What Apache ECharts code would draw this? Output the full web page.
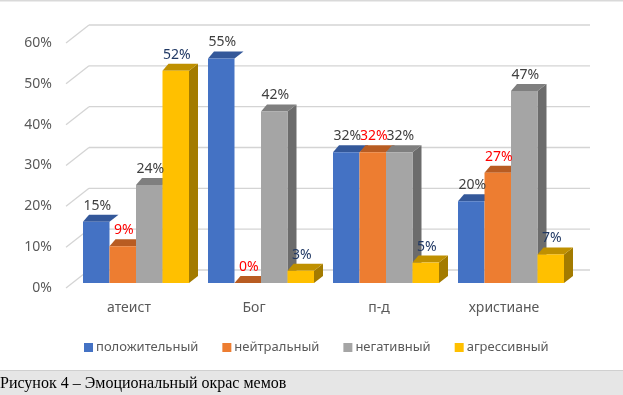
<!DOCTYPE html>
<html>
<head>
<meta charset="utf-8">
<script src="https://cdn.jsdelivr.net/npm/echarts@6/dist/echarts.min.js"></script>
<style>
html,body{margin:0;padding:0;background:#fff;}
#c{width:623px;height:395px;}
</style>
</head>
<body>
<div id="c"></div>
<script>
const categories = ['атеист', 'Бог', 'п-д', 'христиане'];
const seriesNames = ['положительный', 'нейтральный', 'негативный', 'агрессивный'];
const positive = [15, 55, 32, 20];
const neutral = [9, 0, 32, 27];
const negative = [24, 42, 32, 47];
const aggressive = [52, 3, 5, 7];
const yTicks = [0, 10, 20, 30, 40, 50, 60];
const caption = 'Рисунок 4 – Эмоциональный окрас мемов';

const seriesValues = [positive, neutral, negative, aggressive];
const frontColors = ['#4472C4', '#ED7D31', '#A5A5A5', '#FFC000'];
const topColors = ['#34589A', '#B85C22', '#7F7F7F', '#BF9000'];
const sideColors = ['#2B4A80', '#A85520', '#6C6C6C', '#A37B00'];
const labelColors = ['#404040', '#FF0000', '#404040', '#203864'];
const FONT = 'Noto Sans';

const chart = echarts.init(document.getElementById('c'));

function geom(api, si) {
  const ci = api.value(0), v = api.value(1);
  const base = api.coord([ci, 0]);
  const top = api.coord([ci, v]);
  const band = api.size([1, 0])[0];
  const bw = band * 0.212;
  const x0 = base[0] - 2 * bw + si * bw;
  return {x0: x0, x1: x0 + bw, bw: bw, yt: top[1], yb: base[1]};
}

const barSeries = seriesNames.map(function (name, si) {
  return {
    type: 'custom',
    name: name,
    z: 3,
    itemStyle: {color: frontColors[si]},
    data: seriesValues[si].map(function (v, ci) { return [ci, v]; }),
    renderItem: function (params, api) {
      const g = geom(api, si);
      const dx0 = 6, dx1 = 9, dy = -7;
      const children = [];
      if (si >= 2) {
        children.push({type: 'polygon', shape: {points: [[g.x1, g.yt], [g.x1 + dx1, g.yt + dy], [g.x1 + dx1, g.yb + dy], [g.x1, g.yb]]},
          style: {fill: sideColors[si]}});
      }
      children.push({type: 'polygon', shape: {points: [[g.x0, g.yt], [g.x1, g.yt], [g.x1 + dx1, g.yt + dy], [g.x0 + dx0, g.yt + dy]]},
        style: {fill: topColors[si]}});
      children.push({type: 'rect', shape: {x: g.x0, y: g.yt, width: g.bw, height: g.yb - g.yt},
        style: {fill: frontColors[si]}});
      return {type: 'group', children: children};
    }
  };
});

const labelData = [];
seriesValues.forEach(function (arr, si) { arr.forEach(function (v, ci) { labelData.push([ci, v, si]); }); });

const labelSeries = {
  type: 'custom',
  name: '_labels',
  z: 5,
  silent: true,
  data: labelData,
  renderItem: function (params, api) {
    const si = api.value(2);
    const g = geom(api, si);
    return {type: 'text', style: {text: api.value(1) + '%', x: g.x0 + g.bw / 2 + 1, y: g.yt - 16,
      align: 'center', verticalAlign: 'middle', fill: labelColors[si], fontSize: 14, fontFamily: FONT}};
  }
};

const gridSeries = {
  type: 'custom',
  name: '_grid',
  z: 1,
  silent: true,
  data: yTicks.map(function (t) { return [0, t]; }),
  renderItem: function (params, api) {
    const cs = params.coordSys;
    const y = api.coord([0, api.value(1)])[1] - 13;
    const xb = cs.x + 15.5, xe = cs.x + cs.width + 16.5;
    const ls = {stroke: '#D4D4D4', lineWidth: 1.3};
    return {type: 'group', children: [
      {type: 'line', shape: {x1: xb - 23, y1: y + 18, x2: xb, y2: y}, style: ls},
      {type: 'line', shape: {x1: xb, y1: y, x2: xe, y2: y}, style: ls},
      {type: 'text', style: {text: api.value(1) + '%', x: xb - 37, y: y + 18, align: 'right', verticalAlign: 'middle',
        fill: '#595959', fontSize: 14, fontFamily: FONT}}
    ]};
  }
};

chart.setOption({
  animation: false,
  backgroundColor: '#ffffff',
  grid: {left: 73.5, right: 49.5, top: 38, bottom: 112},
  xAxis: {
    type: 'category', data: categories,
    axisLine: {show: false}, axisTick: {show: false}, splitLine: {show: false},
    axisLabel: {color: '#595959', fontSize: 14, fontFamily: FONT, margin: 18, padding: [0, 14, 0, 0]}
  },
  yAxis: {type: 'value', min: 0, max: 60, interval: 10, show: false},
  legend: {
    data: seriesNames, left: 79, top: 336, icon: 'rect', itemWidth: 9, itemHeight: 9, itemGap: 24,
    textStyle: {color: '#595959', fontSize: 13, fontFamily: FONT, padding: [0, 0, 0, -2]}
  },
  graphic: [
    {type: 'rect', shape: {x: 0, y: 0, width: 623, height: 1.5}, style: {fill: '#D9D9D9'}},
    {type: 'rect', shape: {x: 0, y: 371, width: 623, height: 24}, style: {fill: '#E6E6E6'}},
    {type: 'rect', shape: {x: 0, y: 370, width: 623, height: 1}, style: {fill: '#D0D0D0'}},
    {type: 'text', x: 0, y: 384, style: {text: caption, fill: '#000', fontSize: 16, fontFamily: 'Liberation Serif', verticalAlign: 'middle'}}
  ],
  series: [gridSeries].concat(barSeries, [labelSeries])
});
</script>
</body>
</html>
